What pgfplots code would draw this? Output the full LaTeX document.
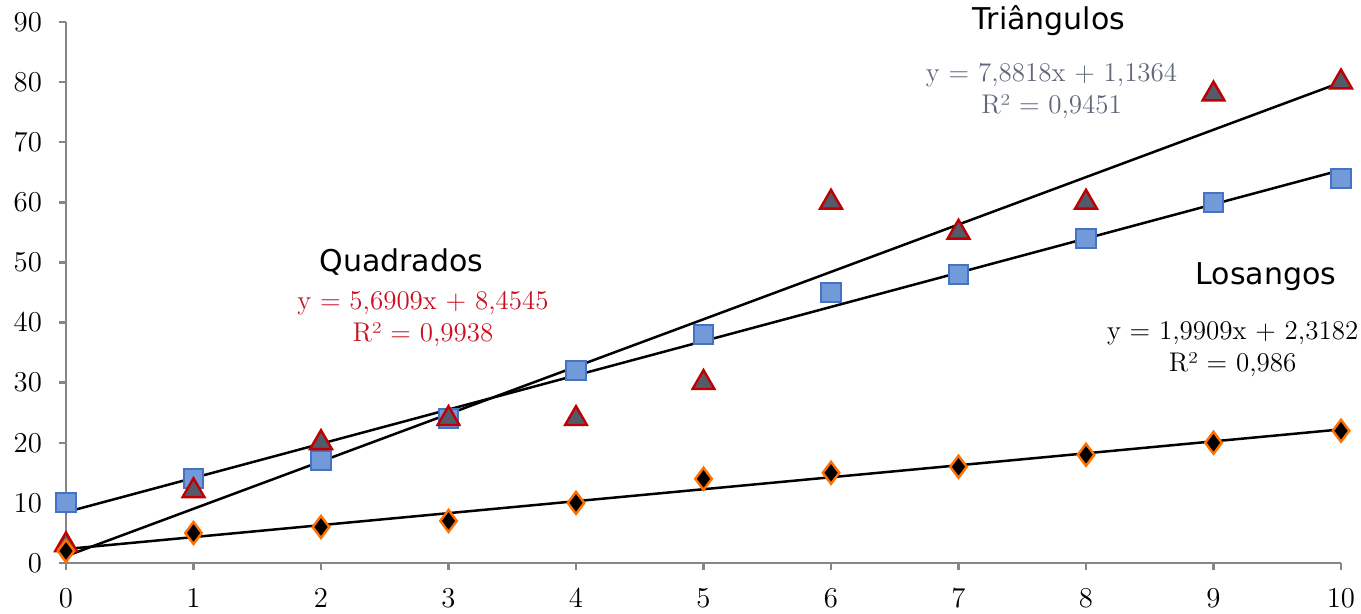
\documentclass[border=0pt]{standalone}
\usepackage{pgfplots}
\pgfplotsset{compat=1.18}
\usepackage{fontspec}
\newfontfamily\labelfont{DejaVu Sans}
\definecolor{sqfill}{RGB}{115,154,216}
\definecolor{sqdraw}{RGB}{68,114,196}
\definecolor{trifill}{RGB}{84,90,106}
\definecolor{tridraw}{RGB}{192,0,0}
\definecolor{diadraw}{RGB}{255,112,0}
\definecolor{axisgray}{RGB}{134,134,134}
\definecolor{eqgray}{RGB}{96,104,124}
\definecolor{eqred}{RGB}{200,16,32}
\begin{document}
\begin{tikzpicture}
\begin{axis}[
  at={(0,0)}, anchor=south west,
  scale only axis, width=637.5pt, height=270.5pt,
  xmin=0, xmax=10, ymin=0, ymax=90,
  xtick={0,1,...,10}, ytick={0,10,...,90},
  axis x line*=bottom, axis y line*=left,
  axis line style={-, draw=axisgray, line width=1.2pt},
  tick style={draw=axisgray, line width=1.2pt},
  tick align=outside, major tick length=3.5pt,
  tick label style={font=\fontsize{15}{18}\selectfont},
  xticklabel style={yshift=-6pt},
  yticklabel style={xshift=-5pt},
  clip=false,
]
% Quadrados
\addplot[only marks, mark=square*, mark size=4.8pt, mark options={fill=sqfill, draw=sqdraw, line width=1pt}]
 coordinates {(0,10)(1,14)(2,17)(3,24)(4,32)(5,38)(6,45)(7,48)(8,54)(9,60)(10,64)};
% Triangulos
\addplot[only marks, mark=triangle*, mark size=6.3pt, mark options={fill=trifill, draw=tridraw, line width=1.2pt}]
 coordinates {(0,3)(1,12)(2,20)(3,24)(4,24)(5,30)(6,60)(7,55)(8,60)(9,78)(10,80)};
% Losangos
\addplot[only marks, mark=diamond*, mark size=5.5pt, mark options={fill=black, draw=diadraw, line width=1.2pt}]
 coordinates {(0,2)(1,5)(2,6)(3,7)(4,10)(5,14)(6,15)(7,16)(8,18)(9,20)(10,22)};
% trend lines
\addplot[black, line width=1.25pt] coordinates {(0,8.4545)(10,65.3635)};
\addplot[black, line width=1.25pt] coordinates {(0,1.1364)(10,79.9544)};
\addplot[black, line width=1.25pt] coordinates {(0,2.3182)(10,22.2272)};
% labels
\node[font=\labelfont\fontsize{15}{18}\selectfont] at (axis cs:7.71,90.3) {Triângulos};
\node[font=\fontsize{13.5}{16}\selectfont, text=eqgray, align=center] at (axis cs:7.73,78.5) {y = 7,8818x + 1,1364\\R² = 0,9451};
\node[font=\labelfont\fontsize{15}{18}\selectfont] at (axis cs:2.63,50.1) {Quadrados};
\node[font=\fontsize{13.5}{16}\selectfont, text=eqred, align=center] at (axis cs:2.80,40.6) {y = 5,6909x + 8,4545\\R² = 0,9938};
\node[font=\labelfont\fontsize{15}{18}\selectfont] at (axis cs:9.41,47.6) {Losangos};
\node[font=\fontsize{13.5}{16}\selectfont, text=black, align=center] at (axis cs:9.15,35.5) {y = 1,9909x + 2,3182\\R² = 0,986};
\end{axis}
\pgfresetboundingbox
\path (-33pt,-25.5pt) rectangle (647.5pt,281.5pt);
\end{tikzpicture}
\end{document}
